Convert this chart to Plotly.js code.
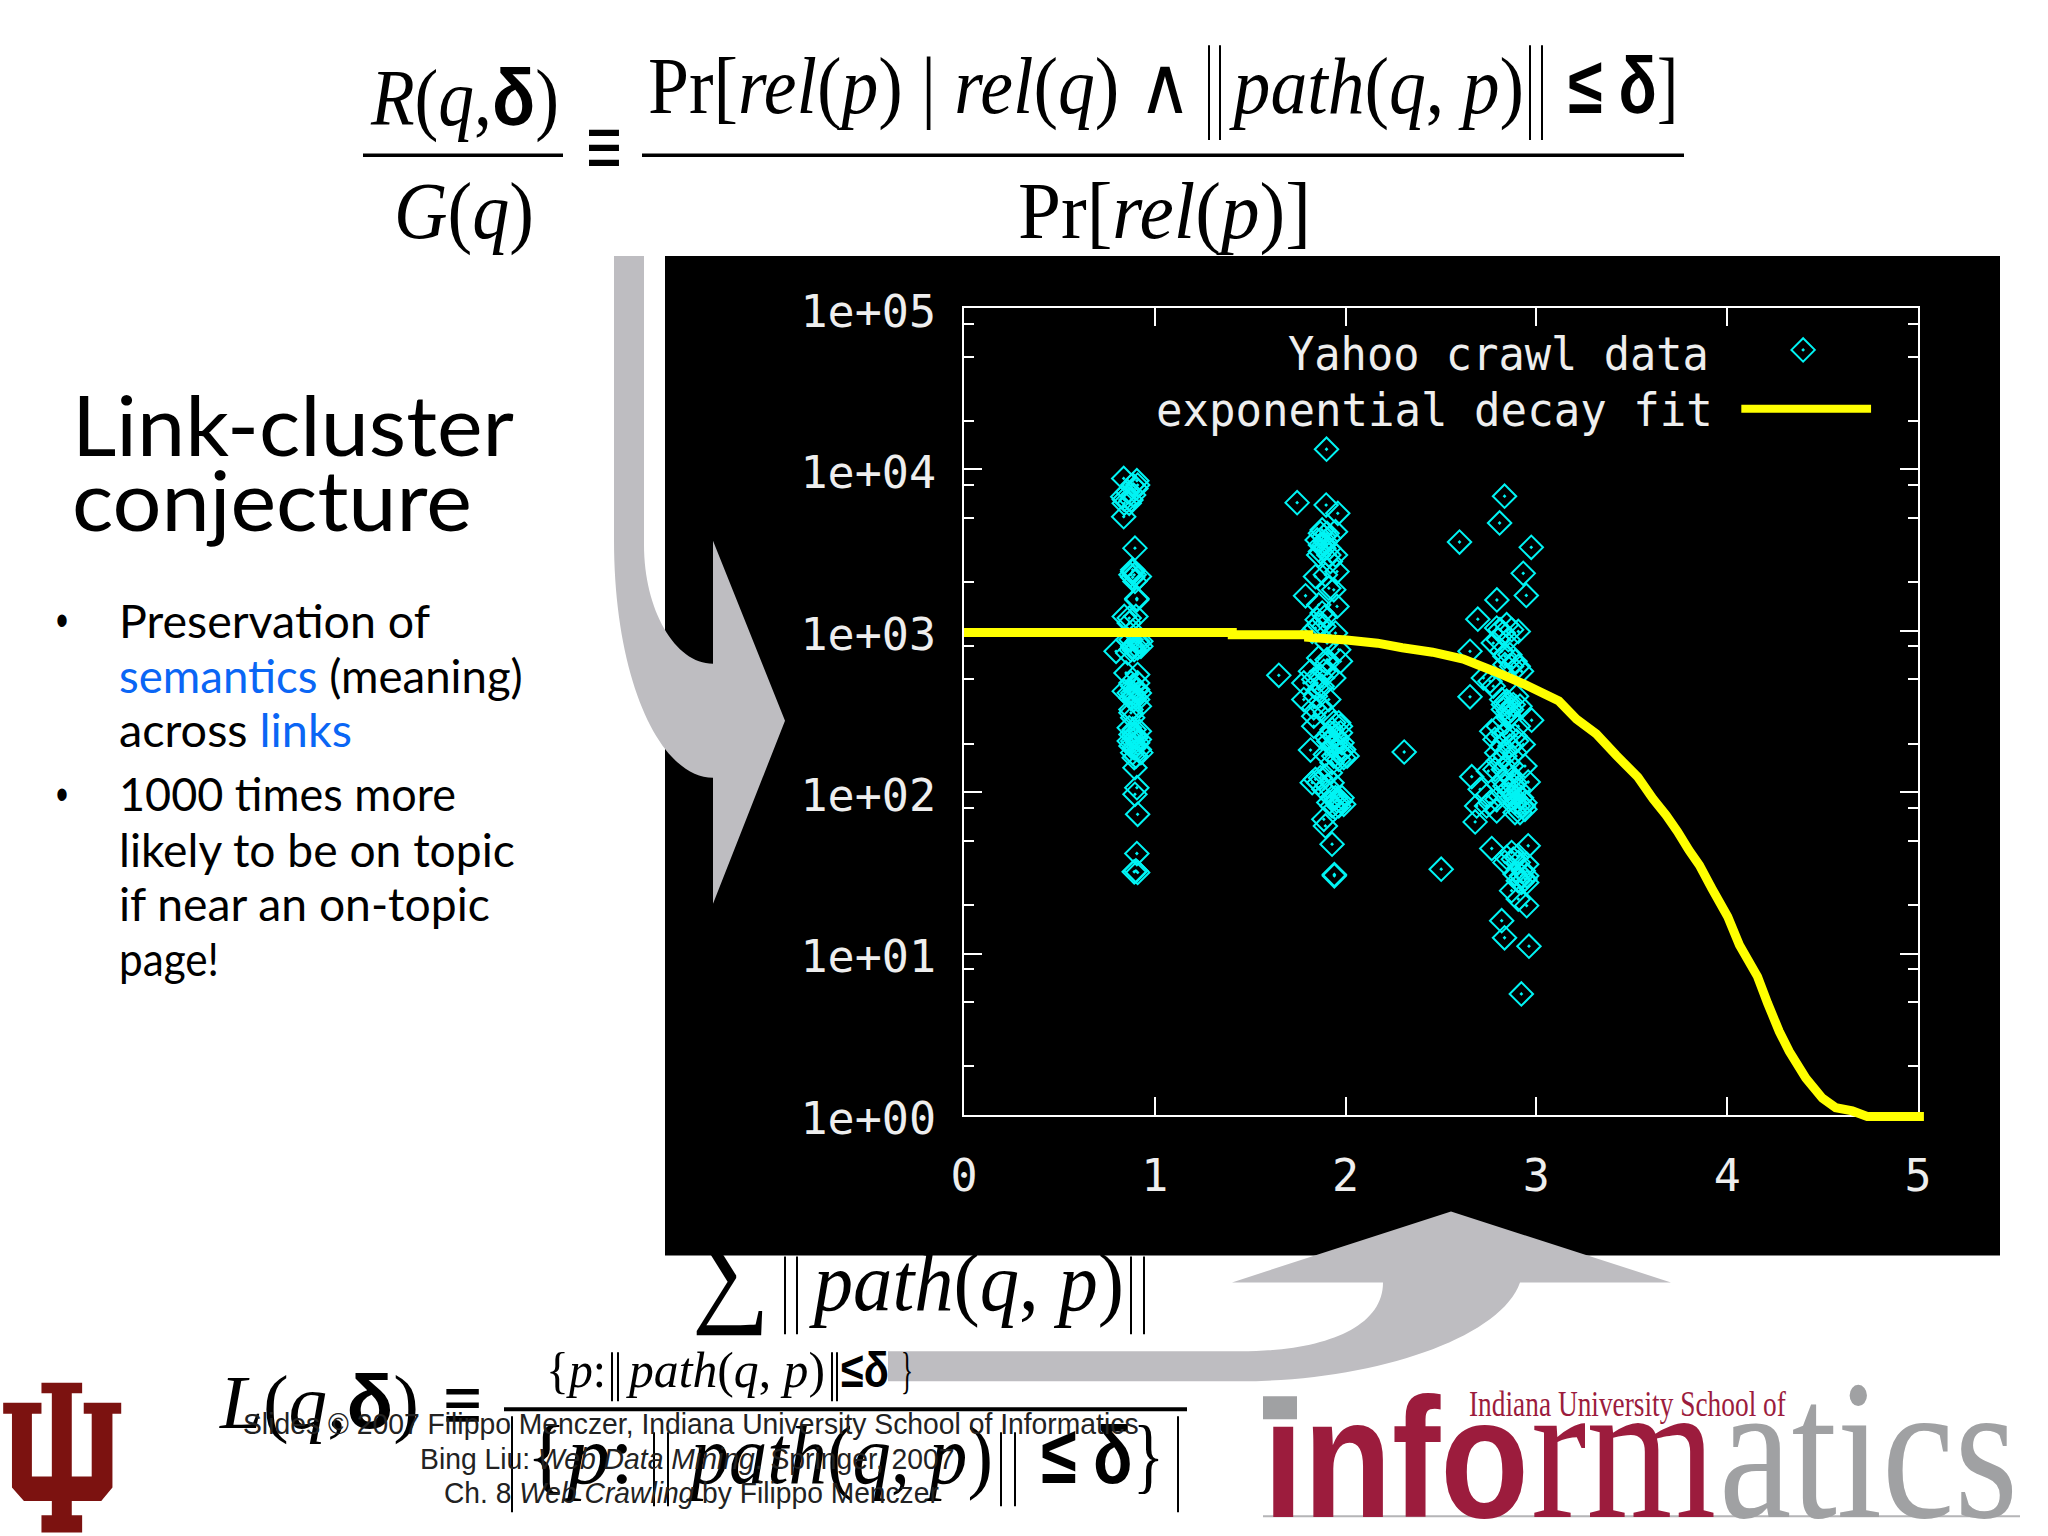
<!DOCTYPE html>
<html>
<head>
<meta charset="utf-8">
<script src="https://cdn.plot.ly/plotly-3.0.1.min.js"></script>
<style>html,body{margin:0;padding:0;background:#fff}#chart{width:2048px;height:1536px}</style>
</head>
<body>
<div id="chart"></div>
<script>
// Yahoo crawl data: x position and log10(count)
const hop1X = [0.837,0.906,0.901,0.858,0.889,0.840,0.866,0.840,0.837,0.896,0.884,0.892,0.884,0.896,0.906,0.906,0.840,0.901,0.866,0.866,0.884,0.875,0.927,0.884,0.910,0.892,0.797,0.858,0.849,0.910,0.910,0.884,0.910,0.840,0.884,0.892,0.892,0.919,0.875,0.875,0.884,0.892,0.875,0.901,0.884,0.910,0.892,0.919,0.884,0.901,0.896,0.906,0.896,0.910,0.906,0.901,0.892,0.910,0.875,0.901,0.866,0.919,0.875,0.910,0.866,0.919,0.892,0.866,0.919,0.875,0.927,0.892,0.858,0.910,0.875,0.927,0.884,0.832,0.875,0.910,0.884,0.875,0.919];
const hop1Log = [3.944,3.930,3.882,3.862,3.841,3.814,3.790,3.790,3.707,3.512,3.378,3.347,3.332,3.306,3.192,3.200,3.089,3.089,3.079,3.048,2.997,2.945,2.935,2.904,2.894,2.883,2.873,2.863,2.739,2.729,2.677,2.657,2.636,2.626,2.615,2.595,2.574,2.533,2.512,2.492,2.461,2.389,2.358,2.337,2.317,2.306,2.275,2.265,2.245,2.224,2.152,2.028,1.987,1.863,1.620,1.513,1.507,1.503,2.677,2.636,2.615,2.615,2.584,2.574,2.399,2.378,2.358,2.317,2.327,2.286,2.245,2.214,2.945,2.935,2.883,2.904,3.903,3.831,3.810,3.903,3.367,3.347,3.336];
const hop2X = [1.900,1.746,1.898,1.959,1.947,1.868,1.886,1.894,1.868,1.912,1.886,1.947,1.859,1.920,1.955,1.842,1.894,1.912,1.938,1.790,1.955,1.859,1.894,1.877,1.851,1.842,1.886,1.947,1.903,1.964,1.859,1.903,1.973,1.816,1.903,1.938,1.781,1.851,1.877,1.650,1.781,1.842,1.912,1.833,1.868,1.833,1.894,1.833,1.964,1.929,1.973,1.903,1.955,1.816,1.929,1.990,1.894,1.938,1.990,1.929,1.842,1.859,1.894,1.903,1.920,1.886,1.973,1.947,1.964,1.929,1.886,1.894,1.929,1.941,1.941,2.307,1.877,1.903,1.851,1.912,1.886,1.868,1.912,1.833,1.868,1.886,1.859,1.903,1.938,1.973,1.920,1.947,1.981,1.947,1.973,1.964,2.008,1.912,1.929,1.955,1.912,1.981,1.947,1.990,1.825,1.868,1.929,1.825,1.859];
const hop2Log = [4.125,3.794,3.779,3.728,3.614,3.604,3.584,3.553,3.532,3.511,3.511,3.470,3.470,3.429,3.367,3.336,3.347,3.264,3.254,3.217,3.151,3.161,3.089,3.110,3.069,3.017,3.027,2.986,2.924,2.883,2.832,2.821,2.811,2.749,2.739,2.708,2.677,2.677,2.656,2.724,2.574,2.595,2.574,2.523,2.533,2.471,2.492,2.409,2.430,2.389,2.368,2.337,2.327,2.261,2.286,2.265,2.234,2.224,2.214,2.183,2.080,2.059,2.100,2.038,2.121,2.018,1.946,1.966,1.915,1.915,1.832,1.791,1.678,1.482,1.490,2.249,3.625,3.604,3.563,3.573,3.532,3.491,3.470,2.698,2.718,2.749,2.636,2.801,2.430,2.409,2.368,2.348,2.306,2.296,2.244,2.203,2.224,2.316,1.966,1.946,1.936,1.966,1.905,1.925,2.059,2.090,2.059,2.996,3.038];
const hop3X = [2.833,2.807,2.597,2.973,2.931,2.947,2.793,2.693,2.809,2.844,2.905,2.774,2.853,2.652,2.818,2.861,2.888,2.922,2.835,2.722,2.757,2.774,2.652,2.827,2.896,2.853,2.914,2.975,2.766,2.827,2.905,2.931,2.818,2.861,2.800,2.853,2.940,2.748,2.661,2.705,2.957,2.835,2.879,2.792,2.687,2.940,2.888,2.853,2.914,2.792,2.679,2.766,2.957,2.835,2.879,2.905,2.949,2.940,2.922,2.888,2.949,2.870,2.905,2.949,2.818,2.833,2.961,2.921,2.501,2.853,2.879,2.861,2.783,2.896,2.853,2.905,2.888,2.757,2.739,2.922,2.888,2.940,2.792,2.827,2.870,2.800,2.835,2.905,2.870,2.844,2.827,2.870,2.853,2.818,2.844,2.800,2.888,2.888,2.835,2.792,2.870,2.827,2.783,2.827,2.870,2.853,2.870,2.739,2.905,2.931,2.888,2.870,2.844,2.905,2.922,2.905,2.931,2.949];
const hop3Log = [3.834,3.668,3.550,3.517,3.356,3.219,3.191,3.072,3.007,3.038,2.996,2.924,2.945,2.873,2.873,2.852,2.811,2.749,2.790,2.708,2.687,2.657,2.591,2.543,2.595,2.502,2.533,2.446,2.378,2.358,2.409,2.296,2.286,2.286,2.193,2.183,2.162,2.131,2.096,2.018,2.063,2.038,2.038,1.956,1.915,1.935,1.935,1.987,1.874,1.884,1.816,1.651,1.668,1.565,1.585,1.606,1.554,1.462,1.441,1.493,1.482,1.390,1.338,1.297,1.204,1.098,1.046,0.750,1.523,2.554,2.543,2.471,2.327,2.317,2.111,2.018,2.059,1.935,1.915,1.966,1.874,1.894,3.017,2.986,3.007,2.945,2.842,2.780,2.780,2.564,2.512,2.512,2.461,2.574,2.368,2.409,2.348,2.245,2.224,2.245,2.162,2.141,2.141,2.069,2.080,2.018,1.966,1.977,1.915,1.915,1.966,1.626,1.596,1.565,1.482,1.451,1.513,1.441];

// exponential decay fit
const fitX = [0,1.406,1.406,1.806,1.806,2.005,2.167,2.297,2.456,2.617,2.778,2.935,3.118,3.210,3.314,3.419,3.532,3.611,3.680,3.740,3.800,3.855,3.920,4.003,4.064,4.159,4.212,4.273,4.325,4.412,4.499,4.569,4.656,4.734,5.031];
const fitY = [975,975,945,945,910,877,838,785,737,668,562,468,367,284,230,169,124,91,72,57,43.6,35.2,25.3,16.9,11.3,7.2,4.92,3.29,2.48,1.69,1.27,1.11,1.06,0.98,0.98];

// legend keys
const keyDiamondX = [4.398];
const keyDiamondY = [55000];
const keyLineX = [4.074,4.754];
const keyLineY = [23770,23770];

// axes
const xTicks = [0,1,2,3,4,5];
const xTickText = ['0','1','2','3','4','5'];
const yTicks = [1,10,100,1000,10000,100000];
const yTickText = ['1e+00','1e+01','1e+02','1e+03','1e+04','1e+05'];
const yMinor = [2,5,8,20,50,80,200,500,800,2000,5000,8000,20000,50000,80000];

const legendNames = ['Yahoo crawl data','exponential decay fit'];

// page geometry (px)
const L = 964, T = 308, W = 954, H = 807.5;
const px = v => (v - L) / W;
const py = v => 1 - (v - T) / H;
const poly = pts => pts.map((p,i) => (i ? 'L ' : 'M ') + px(p[0]) + ' ' + py(p[1])).join(' ') + ' Z';
const curve = cmds => cmds.map(c => c[0] + ' ' + c.slice(1).map((v,i) => i % 2 ? py(v) : px(v)).join(' ')).join(' ');
const rect = (x0,y0,x1,y1,color,layer) => ({type:'rect',xref:'paper',yref:'paper',x0:px(x0),x1:px(x1),y0:py(y0),y1:py(y1),fillcolor:color,line:{width:0},layer:layer||'below'});
const pathShape = (path,color) => ({type:'path',xref:'paper',yref:'paper',path:path,fillcolor:color,line:{width:0},layer:'below'});
const bars = (xs,y0,y1,w) => xs.map(x => rect(x-(w||2)/2,y0,x+(w||2)/2,y1,'#000','above'));

const GRAY = '#BEBDC1', RED = '#7C1210', CRIM = '#9C1C3D', LOGOGRAY = '#A0A1A3';

const tridentZoom = [[52,430],[103,430],[103,462],[90,462],[90,712],[115,712],[115,523],[105,523],[105,490],[152,490],[152,523],[141,523],[141,745],[127,785],[90,785],[90,828],[103,828],[103,880],[52,880],[52,828],[65,828],[65,785],[30,785],[15,745],[15,523],[4,523],[4,490],[52,490],[52,523],[40,523],[40,712],[65,712],[65,462],[52,462]];
const trident = tridentZoom.map(p => [p[0]/1.254, p[1]/3+1240]);

const shapes = [
  rect(665,256,2000,1256,'#000'),
  pathShape(curve([['M',614,256],['L',644,256],['L',644,545],['C',644,610,675,664,713,664],['L',713,541],['L',785,721],['L',713,904],['L',713,778],['C',660,778,614,680,614,540],['Z']]),GRAY),
  pathShape(curve([['M',888,1352],['L',1240,1352],['C',1320,1352,1383,1330,1383,1283],['L',1232,1283],['L',1451,1212],['L',1671,1283],['L',1520,1283],['C',1500,1340,1370,1382,1240,1382],['L',888,1382],['Z']]),GRAY),
  pathShape(poly(trident),RED),
  rect(1263,1397,1297,1420,LOGOGRAY),
  rect(1263,1516,2020,1518,'#B5B5B7'),
  rect(363,153.5,563,157,'#000'),
  rect(642,153.5,1684,157,'#000'),
  rect(504,1408,1187,1412,'#000')
].concat(
  bars([1209,1220,1530,1542],45,140),
  bars([785,797,1131,1144],1257,1335),
  bars([612,618,832,837],1353,1402),
  bars([654,668,1001,1015],1433,1507),
  bars([512,1178],1417,1513)
);

const SERIF = '"Liberation Serif", serif', SANS = '"Liberation Sans", sans-serif', MONO = '"DejaVu Sans Mono", monospace', HAND = 'Lato, sans-serif';
const delta = '<span style="font-family:\'Liberation Sans\'"><b>δ</b></span>';
const le = '<span style="font-family:\'Liberation Sans\'"><b>≤</b></span>';
const pathQP = '<i>path</i>(<i>q</i>, <i>p</i>)';

// [text, left px, right px, baseline px, font size, family, colour]
const texts = [
  ['<i>R</i>(<i>q</i>,'+delta+')',370,559,125,80,SERIF,'#000'],
  ['<i>G</i>(<i>q</i>)',394,534,238,80,SERIF,'#000'],
  ['Pr[<i>rel</i>(<i>p</i>) | <i>rel</i>(<i>q</i>) ∧',648,1192,113,80,SERIF,'#000'],
  [pathQP,1229,1524,113,80,SERIF,'#000'],
  [le+' '+delta+']',1568,1678,113,80,SERIF,'#000'],
  ['Pr[<i>rel</i>(<i>p</i>)]',1018,1311,238,80,SERIF,'#000'],
  ['<b>≡</b>',586,622,176,86,SANS,'#000'],
  ['∑',692,770,1310,120,SERIF,'#000'],
  [pathQP,809,1124,1310,82,SERIF,'#000'],
  ['<i>L</i>(<i>q</i>,'+delta+')',219,419,1428,76,SERIF,'#000'],
  ['<b>≡</b>',443,482,1431,78,SANS,'#000'],
  ['{<i>p</i>:',546,606,1387,50,SERIF,'#000'],
  [pathQP,626,825,1387,50,SERIF,'#000'],
  [le+delta,841,889,1387,50,SERIF,'#000'],
  ['}',901,913,1387,50,SERIF,'#000'],
  ['{<i>p</i>:',526,634,1483,82,SERIF,'#000'],
  [pathQP,686,993,1483,82,SERIF,'#000'],
  [le+' '+delta+'}',1041,1164,1483,82,SERIF,'#000'],
  ['Slides © 2007 Filippo Menczer, Indiana University School of Informatics',243,1139,1434,30,SANS,'#222'],
  ['Bing Liu: <i>Web Data Mining</i>. Springer, 2007',420,955,1469,30,SANS,'#222'],
  ['Ch. 8 <i>Web Crawling</i> by Filippo Menczer',444,939,1503,30,SANS,'#222'],
  ['Link-cluster',72,514,456,84,HAND,'#000'],
  ['conjecture',72,472,531,84,HAND,'#000'],
  ['•',56,68,636,46,SANS,'#000'],
  ['Preservation of',119,430,638,46,HAND,'#000'],
  ['<span style="color:#0A66F5">semantics</span> (meaning)',119,523,693,46,HAND,'#000'],
  ['across <span style="color:#0A66F5">links</span>',119,352,747,46,HAND,'#000'],
  ['•',56,68,810,46,SANS,'#000'],
  ['1000 times more',119,456,811,46,HAND,'#000'],
  ['likely to be on topic',119,515,867,46,HAND,'#000'],
  ['if near an on-topic',119,490,921,46,HAND,'#000'],
  ['page!',119,219,976,46,HAND,'#000'],
  [legendNames[0],1288,1709,370,46,MONO,'#eee'],
  [legendNames[1],1156,1713,426,46,MONO,'#eee'],
  ['<b>ınfo</b>',1263,1529,1517,170,SANS,CRIM],
  ['rm',1531,1716,1517,200,SERIF,CRIM],
  ['atics',1719,2018,1517,200,SERIF,LOGOGRAY],
  ['Indiana University School of',1469,1786,1416,36,SERIF,CRIM]
];

const annotations = texts.map(t => ({
  text:t[0], xref:'paper', yref:'paper', x:px(t[1]), y:py(t[3]), xanchor:'left', yanchor:'bottom',
  align:'left', showarrow:false, borderpad:0, font:{size:t[4],family:t[5],color:t[6]}
}));

const powLog = a => a.map(v => Math.pow(10,v));
const diamond = {symbol:'diamond-open-dot',size:18,color:'#00F4F4',line:{color:'#00F4F4',width:2}};
const traces = [
  {x:hop1X.concat(hop2X,hop3X), y:powLog(hop1Log.concat(hop2Log,hop3Log)), mode:'markers', type:'scatter', name:legendNames[0], marker:diamond, showlegend:false},
  {x:keyDiamondX, y:keyDiamondY, mode:'markers', type:'scatter', name:legendNames[0]+' key', marker:diamond, showlegend:false},
  {x:fitX, y:fitY, mode:'lines', type:'scatter', name:legendNames[1], line:{color:'#FFFF00',width:9,shape:'linear',simplify:false}, cliponaxis:false, showlegend:false},
  {x:keyLineX, y:keyLineY, mode:'lines', type:'scatter', name:legendNames[1]+' key', line:{color:'#FFFF00',width:8}, showlegend:false}
];

const axisBase = {
  showgrid:false, zeroline:false, showline:true, linecolor:'#fff', linewidth:2, mirror:'ticks', layer:'below traces',
  ticks:'inside', ticklen:18, tickwidth:2, tickcolor:'#fff', tickmode:'array',
  tickfont:{family:MONO,size:45,color:'#eee'}
};
const layout = {
  width:2048, height:1536, paper_bgcolor:'#fff', plot_bgcolor:'#000', showlegend:false,
  margin:{l:L,r:2048-L-W,t:T,b:1536-T-H,autoexpand:false,pad:0},
  xaxis:Object.assign({},axisBase,{type:'linear',range:[0,5],tickvals:xTicks,ticktext:xTickText,ticklabelstandoff:20}),
  yaxis:Object.assign({},axisBase,{type:'log',range:[0,5],tickvals:yTicks,ticktext:yTickText,ticklabelstandoff:17,ticklabelshift:3,
    minor:{ticks:'inside',ticklen:10,tickwidth:2,tickcolor:'#fff',tickmode:'array',tickvals:yMinor,showgrid:false}}),
  shapes:shapes, annotations:annotations
};

Plotly.newPlot('chart',traces,layout,{displayModeBar:false,staticPlot:true}).then(gd => {
  // squeeze each text to the width it has on the slide and sit it on its baseline
  gd.querySelectorAll('g.annotation').forEach(g => {
    const i = +g.getAttribute('data-index');
    const t = texts[i];
    const el = g.querySelector('text');
    const r = el.getBoundingClientRect();
    const ctm = el.getScreenCTM();
    const base = ctm.d * parseFloat(el.getAttribute('y') || 0) + ctm.f;
    const sx = (t[2]-t[1]) / r.width;
    g.setAttribute('transform', `matrix(${sx},0,0,1,${t[1]-r.left*sx},${t[3]-base})`);
  });
  // the fit line runs slightly past the frame at its right end, as in the original
  gd.querySelectorAll('.js-line').forEach(line => {
    for (let el = line; el && el.tagName !== 'svg'; el = el.parentNode) {
      el.removeAttribute('clip-path');
      el.style.removeProperty('clip-path');
    }
  });
});
</script>
</body>
</html>
